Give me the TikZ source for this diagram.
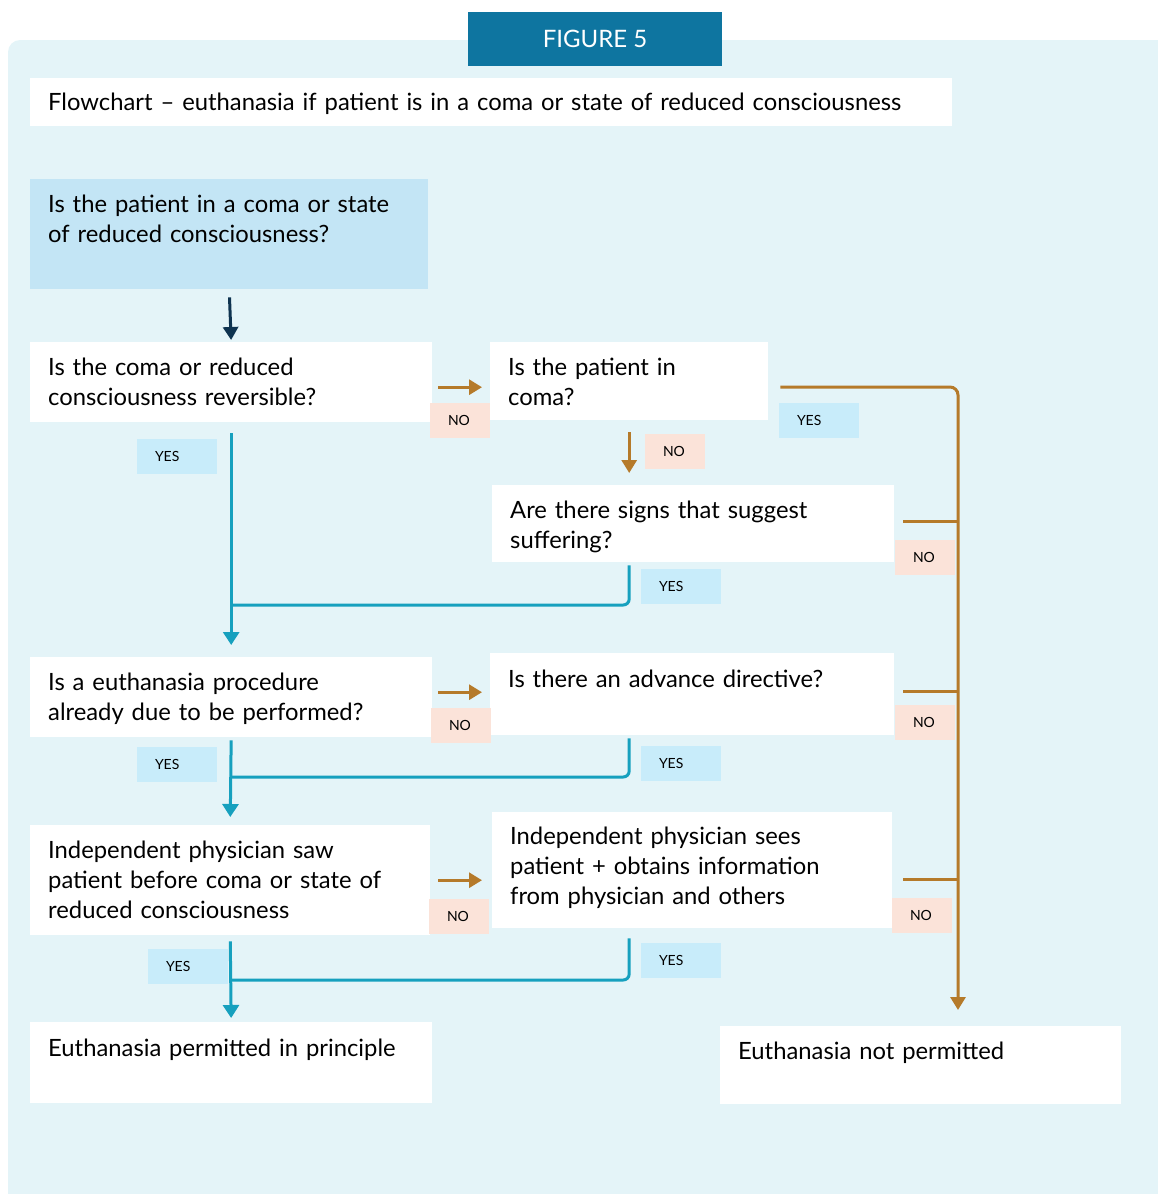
\documentclass[tikz,border=0pt]{standalone}
\usepackage{fontspec}
\setmainfont{Lato}
\usepackage{xcolor}
\usetikzlibrary{arrows.meta,positioning}

\definecolor{panelbg}{RGB}{228,244,248}
\definecolor{figblue}{RGB}{14,117,160}
\definecolor{qblue}{RGB}{195,229,245}
\definecolor{nofill}{RGB}{251,227,217}
\definecolor{yesfill}{RGB}{200,236,250}
\definecolor{tealln}{RGB}{22,160,190}
\definecolor{brownln}{RGB}{181,122,42}
\definecolor{navyln}{RGB}{14,51,80}

\begin{document}
\begin{tikzpicture}[x=1pt, y=-1pt,
  qbox/.style={fill=#1, anchor=north west, align=left, inner xsep=18pt,
               inner ysep=0pt, text height=33pt,
               font=\fontsize{23.8}{30}\selectfont},
  qbox/.default=white,
  lab/.style={fill=#1, align=left, inner xsep=18pt, inner ysep=0pt,
              minimum height=35pt, font=\fontsize{14}{16}\selectfont},
  nolbl/.style={lab=nofill, text width=24pt},
  yeslbl/.style={lab=yesfill, text width=44pt},
  tarr/.style={-{Triangle[width=16pt,length=13pt]}, line width=3pt, tealln},
  tln/.style={line width=3pt, tealln, rounded corners=6pt},
  barr/.style={-{Triangle[width=15pt,length=13pt]}, line width=3pt, brownln},
  bln/.style={line width=3pt, brownln},
]
\useasboundingbox (0,0) rectangle (1158,1194);
% Hintergrund
\fill[panelbg, rounded corners=12pt] (8,1210) -- (8,40) -- (1175,40) -- (1175,1210) -- cycle;
% Kopf
\node[fill=figblue, text=white, minimum width=254pt, minimum height=54pt,
      font=\fontsize{24}{28}\selectfont] (fig) at (595,39) {FIGURE 5};
\node[qbox, text width=886pt, text height=32pt, text depth=16pt] (ttl) at (30,78)
  {Flowchart -- euthanasia if patient is in a coma or state of reduced consciousness};
% Fragen
\node[qbox=qblue, text width=362pt, text depth=77pt] (q1)    at (30,179)  {Is the patient in a coma or state\\of reduced consciousness?};
\node[qbox, text width=366pt, text depth=47pt]       (rev)   at (30,342)  {Is the coma or reduced\\consciousness reversible?};
\node[qbox, text width=242pt, text depth=45pt]       (coma)  at (490,342) {Is the patient in\\coma?};
\node[qbox, text width=366pt, text depth=44pt]       (sign)  at (492,485) {Are there signs that suggest\\suffering?};
\node[qbox, text width=366pt, text depth=47pt]       (due)   at (30,657)  {Is a euthanasia procedure\\already due to be performed?};
\node[qbox, text width=368pt, text height=34pt, text depth=48pt] (adv) at (490,653) {Is there an advance directive?};
\node[qbox, text width=364pt, text depth=77pt]       (saw)   at (30,825)  {Independent physician saw\\patient before coma or state of\\reduced consciousness};
\node[qbox, text width=364pt, text height=32pt, text depth=84pt] (sees) at (492,812) {Independent physician sees\\patient + obtains information\\from physician and others};
\node[qbox, text width=366pt, text height=34pt, text depth=47pt] (ok) at (30,1022) {Euthanasia permitted in principle};
\node[qbox, text width=365pt, text depth=45pt]       (notok) at (720,1026) {Euthanasia not permitted};
% Hilfspunkte
\coordinate (rail) at (958,387);
\coordinate (m1) at (0,605);
\coordinate (m2) at (0,777);
\coordinate (m3) at (0,980);
% Pfeile
\draw[-{Triangle[width=15pt,length=13pt]}, line width=3pt, navyln, shorten <=8pt, shorten >=2pt] (q1.south) -- (rev.north);
\draw[barr, shorten <=6pt, shorten >=8pt] ([yshift=-5pt]rev.east) -- ([yshift=-5pt]rev.east -| coma.west);
\draw[barr, shorten <=12pt, shorten >=12pt] (coma.south) -- (sign.north -| coma.south);
\draw[barr, rounded corners=8pt] ([xshift=12pt]coma.east |- rail) -- (rail) -- ([yshift=16pt]rail |- notok.north);
\draw[bln] ([shift={(9pt,2pt)}]sign.east) -- ([yshift=2pt]sign.east -| rail);
\draw[barr, shorten <=6pt, shorten >=8pt] ([yshift=5pt]due.east) -- ([yshift=5pt]due.east -| adv.west);
\draw[bln] ([shift={(9pt,3pt)}]adv.east) -- ([yshift=3pt]adv.east -| rail);
\draw[barr, shorten <=8pt, shorten >=10pt] (saw.east) -- (saw.east -| sees.west);
\draw[bln] ([shift={(11pt,-9pt)}]sees.east) -- ([yshift=-9pt]sees.east -| rail);
\draw[tarr, shorten <=11pt, shorten >=12pt] (rev.south) -- (due.north);
\draw[tln, shorten <=3pt] (sign.south -| coma.south) -- (coma.south |- m1) -- (rev.south |- m1);
\draw[tarr, shorten <=3pt, shorten >=8pt] (due.south) -- (saw.north);
\draw[tln, shorten <=3pt] (adv.south -| coma.south) -- (coma.south |- m2) -- (due.south |- m2);
\draw[tarr, shorten <=6pt, shorten >=4pt] (saw.south) -- (ok.north);
\draw[tln, shorten <=10pt] (sees.south -| coma.south) -- (coma.south |- m3) -- (saw.south |- m3);
% Beschriftungen
\node[nolbl]  (n1) at (460,420) {NO};
\node[yeslbl] (y1) at (819,420) {YES};
\node[nolbl]  (n2) at (675,451) {NO};
\node[yeslbl] (y2) at (177,456) {YES};
\node[nolbl]  (n3) at (925,557) {NO};
\node[yeslbl] (y3) at (681,586) {YES};
\node[nolbl]  (n4) at (461,725) {NO};
\node[nolbl]  (n5) at (925,722) {NO};
\node[yeslbl] (y4) at (177,764) {YES};
\node[yeslbl] (y5) at (681,763) {YES};
\node[nolbl]  (n6) at (459,916) {NO};
\node[nolbl]  (n7) at (922,915) {NO};
\node[yeslbl] (y6) at (188,966) {YES};
\node[yeslbl] (y7) at (681,960) {YES};
\end{tikzpicture}
\end{document}
